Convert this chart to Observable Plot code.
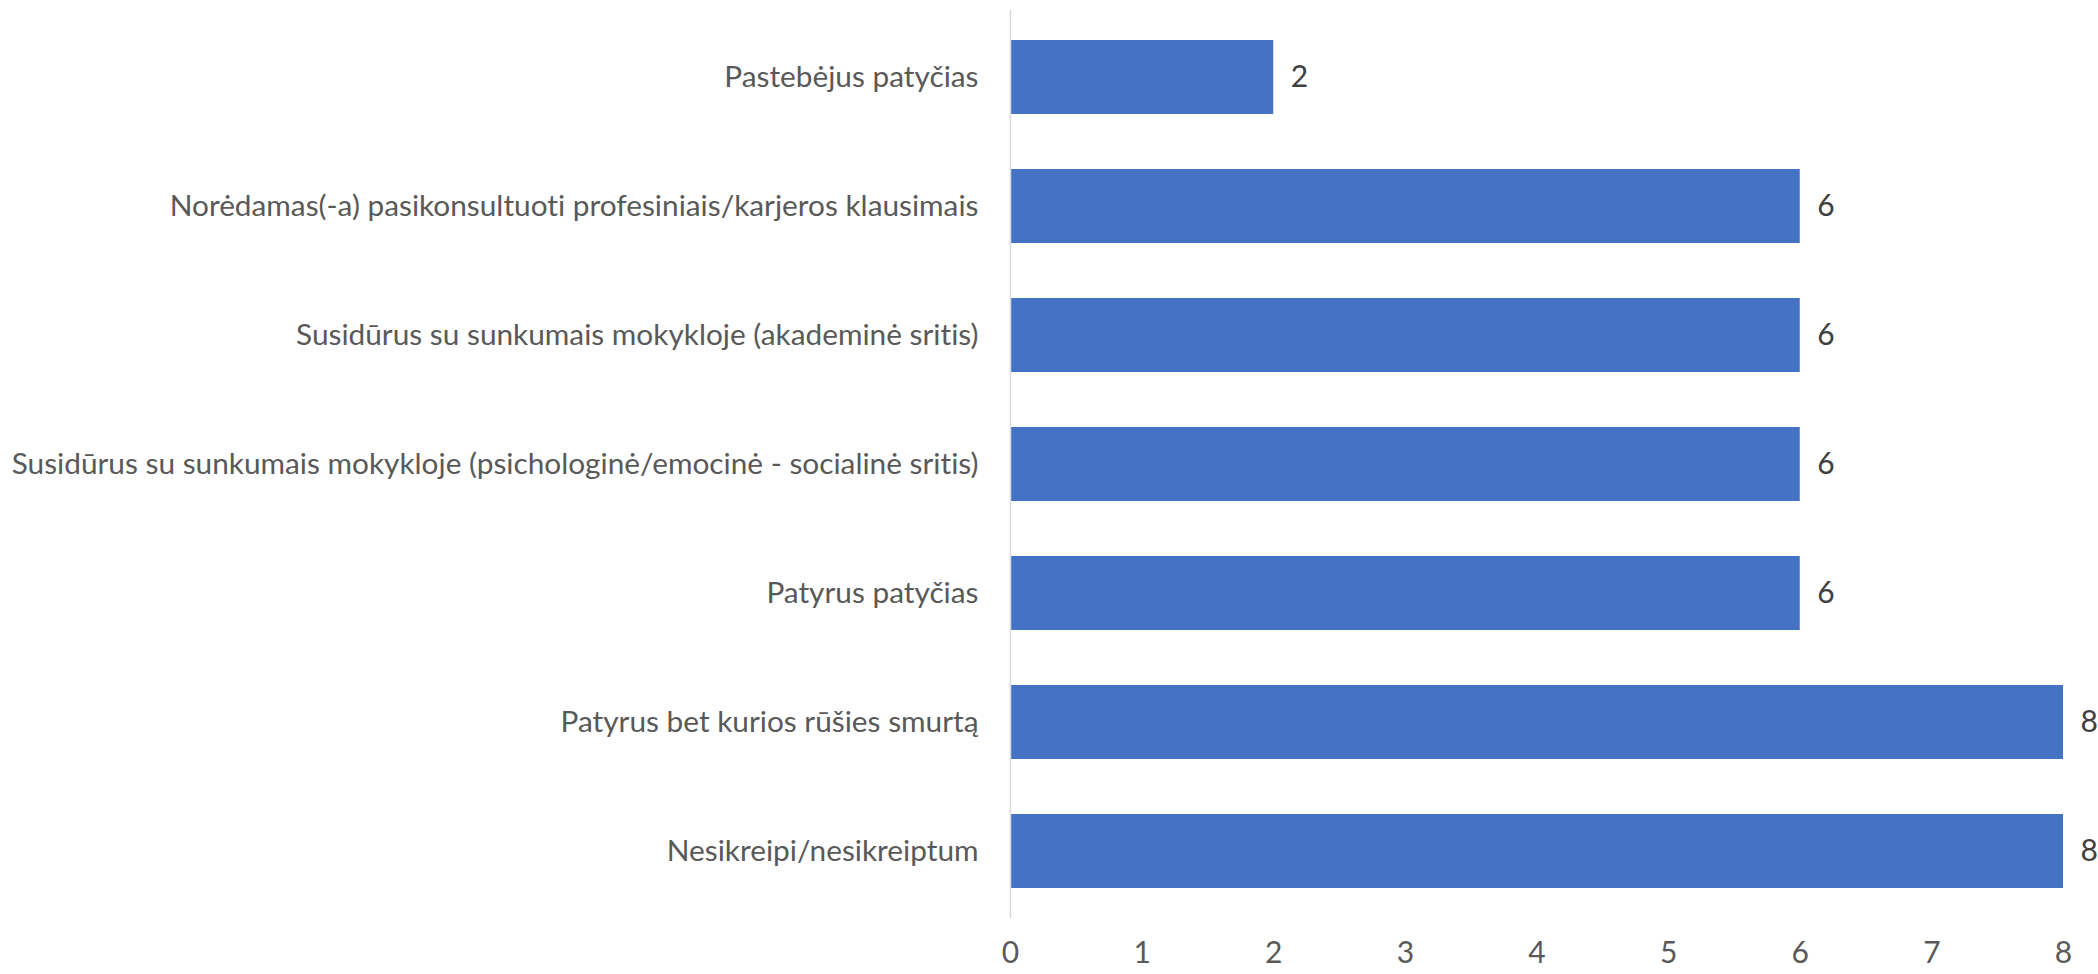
<!DOCTYPE html>
<html>
<head>
<meta charset="utf-8">
<script src="https://cdn.jsdelivr.net/npm/d3@7"></script>
<script src="https://cdn.jsdelivr.net/npm/@observablehq/plot@0.6"></script>
<style>
  html, body { margin: 0; padding: 0; background: #fff; }
  svg text { font-variant-ligatures: none; font-feature-settings: "liga" 0, "clig" 0; }
</style>
</head>
<body>
<div id="chart"></div>
<script>
const categories = [
  "Pastebėjus patyčias",
  "Norėdamas(-a) pasikonsultuoti profesiniais/karjeros klausimais",
  "Susidūrus su sunkumais mokykloje (akademinė sritis)",
  "Susidūrus su sunkumais mokykloje (psichologinė/emocinė - socialinė sritis)",
  "Patyrus patyčias",
  "Patyrus bet kurios rūšies smurtą",
  "Nesikreipi/nesikreiptum"
];
const values = [2, 6, 6, 6, 6, 8, 8];
const xTicks = [0, 1, 2, 3, 4, 5, 6, 7, 8];

const data = categories.map((c, i) => ({category: c, value: values[i]}));
const FONT = "Lato, 'Open Sans', sans-serif";

const chart = Plot.plot({
  width: 2098,
  height: 974,
  marginLeft: 1010,
  marginRight: 35,
  marginTop: 10,
  marginBottom: 56,
  style: {fontFamily: FONT, fontSize: "30px", color: "#595959", background: "#fff"},
  x: {domain: [0, 8]},
  y: {domain: categories, paddingInner: 0.43, paddingOuter: 0.215},
  marks: [
    Plot.barX(data, {x: "value", y: "category", fill: "#4472C4"}),
    Plot.ruleX([0], {stroke: "#d9d9d9", strokeWidth: 1.5}),
    Plot.text(data, {x: "value", y: "category", text: d => String(d.value), dx: 17, textAnchor: "start", fill: "#404040", fontSize: 30}),
    Plot.axisY({tickSize: 0, tickPadding: 32, label: null, fontSize: 29.8, fill: "#595959"}),
    Plot.axisX({ticks: xTicks, tickSize: 0, tickPadding: 23, label: null, fontSize: 30, fill: "#595959", tickFormat: d => String(d)})
  ]
});
document.getElementById("chart").appendChild(chart);
</script>
</body>
</html>
